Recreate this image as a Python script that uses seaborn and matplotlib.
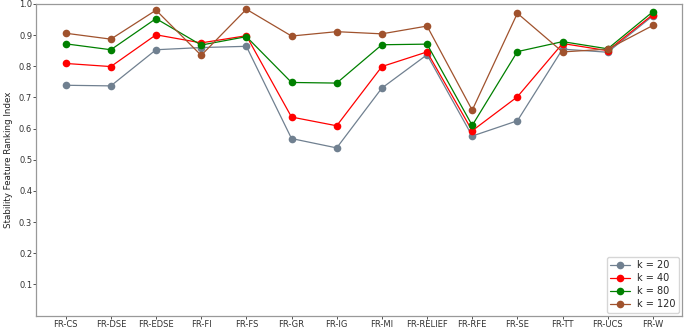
import matplotlib
matplotlib.use("Agg")
import matplotlib.pyplot as plt
import seaborn as sns
import pandas as pd

methods = ["FR-CS", "FR-DSE", "FR-EDSE", "FR-FI", "FR-FS", "FR-GR", "FR-IG",
           "FR-MI", "FR-RELIEF", "FR-RFE", "FR-SE", "FR-TT", "FR-UCS", "FR-W"]
k20 = [0.739, 0.737, 0.853, 0.860, 0.864, 0.568, 0.538, 0.730, 0.837, 0.576, 0.625, 0.855, 0.845, 0.962]
k40 = [0.809, 0.799, 0.901, 0.875, 0.898, 0.637, 0.609, 0.799, 0.846, 0.593, 0.702, 0.873, 0.850, 0.966]
k80 = [0.872, 0.853, 0.953, 0.868, 0.895, 0.748, 0.746, 0.869, 0.871, 0.610, 0.847, 0.879, 0.856, 0.975]
k120 = [0.906, 0.887, 0.980, 0.835, 0.983, 0.897, 0.911, 0.904, 0.929, 0.659, 0.970, 0.846, 0.855, 0.931]
labels = ["k = 20", "k = 40", "k = 80", "k = 120"]
colors = ["slategray", "red", "green", "sienna"]
yticks = [0.1, 0.2, 0.3, 0.4, 0.5, 0.6, 0.7, 0.8, 0.9, 1.0]

rows = []
for lab, vals in zip(labels, [k20, k40, k80, k120]):
    for i, (m, v) in enumerate(zip(methods, vals)):
        rows.append({"x": i, "method": m, "value": v, "k": lab})
df = pd.DataFrame(rows)

sns.set_style("white")
plt.rcParams["font.family"] = ["DejaVu Sans"]
fig = plt.figure(figsize=(6.85, 3.28), dpi=100)
ax = fig.add_axes([0.053, 0.038, 0.943, 0.950])
sns.lineplot(data=df, x="x", y="value", hue="k", palette=colors, marker="o",
             markersize=5.5, markeredgewidth=0, linewidth=0.9, ax=ax)
ax.set_ylim(0, 1.0)
ax.set_yticks(yticks)
ax.set_yticklabels([f"{t:.1f}" for t in yticks])
ax.set_xticks(range(len(methods)))
ax.set_xticklabels(methods)
ax.margins(x=0.05)
ax.tick_params(axis="both", labelsize=6, length=2, width=0.6, colors="#333333", pad=1)
ax.tick_params(axis="both", bottom=True, left=True)
ax.set_xlabel("")
ax.set_ylabel("Stability Feature Ranking Index", fontsize=6.3, color="#222222", labelpad=4)
for s in ax.spines.values():
    s.set_color("#999999")
    s.set_linewidth(0.9)
leg = ax.legend(loc="lower right", fontsize=7, frameon=True, handlelength=2.0,
                borderpad=0.35, labelspacing=0.3, borderaxespad=0.3)
leg.get_frame().set_edgecolor("#cccccc")
fig.savefig("out.png", dpi=100)
